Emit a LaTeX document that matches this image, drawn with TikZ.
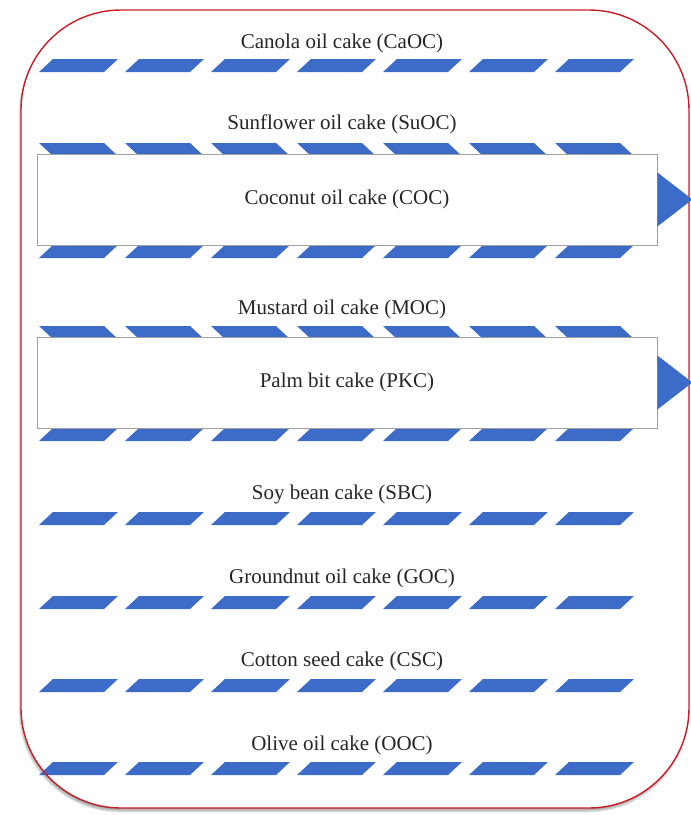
\documentclass[tikz,border=0pt]{standalone}
\usepackage{fontspec}
\setmainfont{Liberation Serif}
\usetikzlibrary{shadows.blur}
\definecolor{stripeblue}{RGB}{60,108,200}
\definecolor{framered}{RGB}{200,30,40}
\definecolor{boxgrey}{RGB}{160,160,160}
\tikzset{
  lbl/.style={font=\fontsize{21}{25}\selectfont, text=black!85, anchor=base, inner sep=0pt},
  framefill/.style={rounded corners=100pt, fill=white,
    blur shadow={shadow xshift=-1pt, shadow yshift=-3pt, shadow blur steps=8, shadow opacity=35}},
  frameline/.style={draw=framered, line width=1.4pt, rounded corners=100pt},
  itembox/.style={draw=boxgrey, line width=0.8pt, fill=white, minimum width=620pt,
    minimum height=91pt, inner sep=0pt, font=\fontsize{21}{25}\selectfont, text=black!85},
  stripefill/.style={fill=stripeblue},
  tipfill/.style={fill=stripeblue}
}
\newcommand\fwdrow[1]{%
  \foreach \i in {0,...,6}{%
    \fill[stripefill] ({39+86*\i},{#1+13}) -- ++(65,0) -- ++(14,-13) -- ++(-65,0) -- cycle;}}
\newcommand\backrow[1]{%
  \foreach \i in {0,...,6}{%
    \fill[stripefill] ({39+86*\i},{#1}) -- ++(65,0) -- ++(14,13) -- ++(-65,0) -- cycle;}}
\begin{document}
\begin{tikzpicture}[x=1pt,y=-1pt]
\useasboundingbox (0,0) rectangle (691,815);
\path[framefill] (21,10) rectangle (689,808);
% stripe rows
\fwdrow{59}
\backrow{143}
\fwdrow{245}
\backrow{326}
\fwdrow{428}
\fwdrow{512}
\fwdrow{596}
\fwdrow{679}
\fwdrow{762}
% frame border on top
\path[frameline] (21,10) rectangle (689,808);
% boxes
\node[itembox] (coc) at (347,199.5) {Coconut oil cake (COC)};
\node[itembox] (pkc) at (347,382.5) {Palm bit cake (PKC)};
\fill[tipfill] (coc.east) ++(0,-27) -- ++(35,27) -- ++(-35,27) -- cycle;
\fill[tipfill] (pkc.east) ++(0,-27) -- ++(35,27) -- ++(-35,27) -- cycle;
% labels
\node[lbl] (caoc) at (342,48) {Canola oil cake (CaOC)};
\node[lbl] (suoc) at (342,129) {Sunflower oil cake (SuOC)};
\node[lbl] (moc) at (342,314) {Mustard oil cake (MOC)};
\node[lbl] (sbc) at (342,499) {Soy bean cake (SBC)};
\node[lbl] (goc) at (342,583) {Groundnut oil cake (GOC)};
\node[lbl] (csc) at (342,666) {Cotton seed cake (CSC)};
\node[lbl] (ooc) at (342,750) {Olive oil cake (OOC)};
\end{tikzpicture}
\end{document}
